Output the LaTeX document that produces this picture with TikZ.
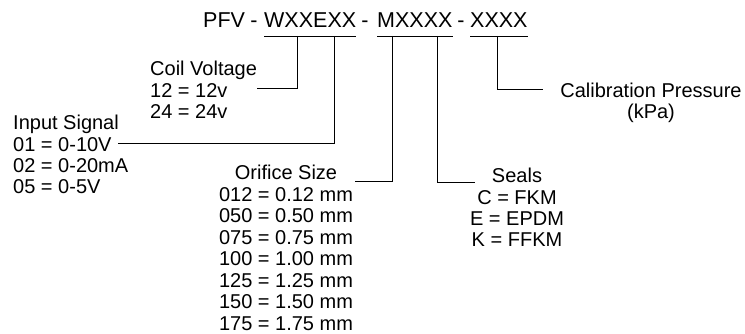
\documentclass[tikz,border=0pt]{standalone}
\usepackage{fontspec}
\setmainfont{Liberation Sans}
\usetikzlibrary{positioning}

\begin{document}
\begin{tikzpicture}[
    x=1pt, y=-1pt,
    code/.style={inner sep=0pt, font=\fontsize{21.5}{24}\selectfont, text depth=8pt},
    label/.style={inner sep=0pt, font=\fontsize{20}{21.5}\selectfont},
    lead/.style={line width=0.9pt}
]
\useasboundingbox (0,0) rectangle (745,334);

% Part number
\node[code, anchor=base west] (pfv) at (203,28) {PFV};
\node[code, anchor=base west] (wx) at (264,28) {WXXEXX};
\node[code, anchor=base west] (mx) at (377,28) {MXXXX};
\node[code, anchor=base west] (xx) at (470,28) {XXXX};
\node[code, anchor=base] (d1) at (254,28) {-};
\node[code, anchor=base] (d2) at (365,28) {-};
\node[code, anchor=base] (d3) at (461,28) {-};

% Underlines
\draw[lead] (wx.south west) -- (wx.south east);
\draw[lead] (mx.south west) -- (mx.south east);
\draw[lead] (xx.south west) -- (xx.south east);

% Taps on the underlines
\coordinate (cvtap) at (297,36);
\coordinate (intap) at (334,36);
\coordinate (ortap) at (392,36);
\coordinate (setap) at (437,36);
\coordinate (catap) at (497,36);

% Labels (anchored at the baseline of the last line)
\node[label, align=left, anchor=base west] (coil) at (150,119)
  {Coil Voltage\\12 = 12v\\24 = 24v};
\node[label, align=left, anchor=base west] (input) at (13,194)
  {Input Signal\\01 = 0-10V\\02 = 0-20mA\\05 = 0-5V};
\node[label, align=center, anchor=base] (orifice) at (286,330)
  {Orifice Size\\012 = 0.12 mm\\050 = 0.50 mm\\075 = 0.75 mm\\100 = 1.00 mm\\125 = 1.25 mm\\150 = 1.50 mm\\175 = 1.75 mm};
\node[label, align=center, anchor=base] (seals) at (517,247)
  {Seals\\C = FKM\\E = EPDM\\K = FFKM};
\node[label, align=center, anchor=base] (calib) at (651,119)
  {Calibration Pressure\\(kPa)};

% Leader ends
\coordinate (cvend) at (257,88);
\coordinate (inend) at (118,143);
\coordinate (orend) at (355,181);
\coordinate (seend) at (475,182);
\coordinate (caend) at (543,89);

% Leaders
\draw[lead] (cvtap) |- (cvend);
\draw[lead] (intap) |- (inend);
\draw[lead] (ortap) |- (orend);
\draw[lead] (setap) |- (seend);
\draw[lead] (catap) |- (caend);

\end{tikzpicture}
\end{document}
